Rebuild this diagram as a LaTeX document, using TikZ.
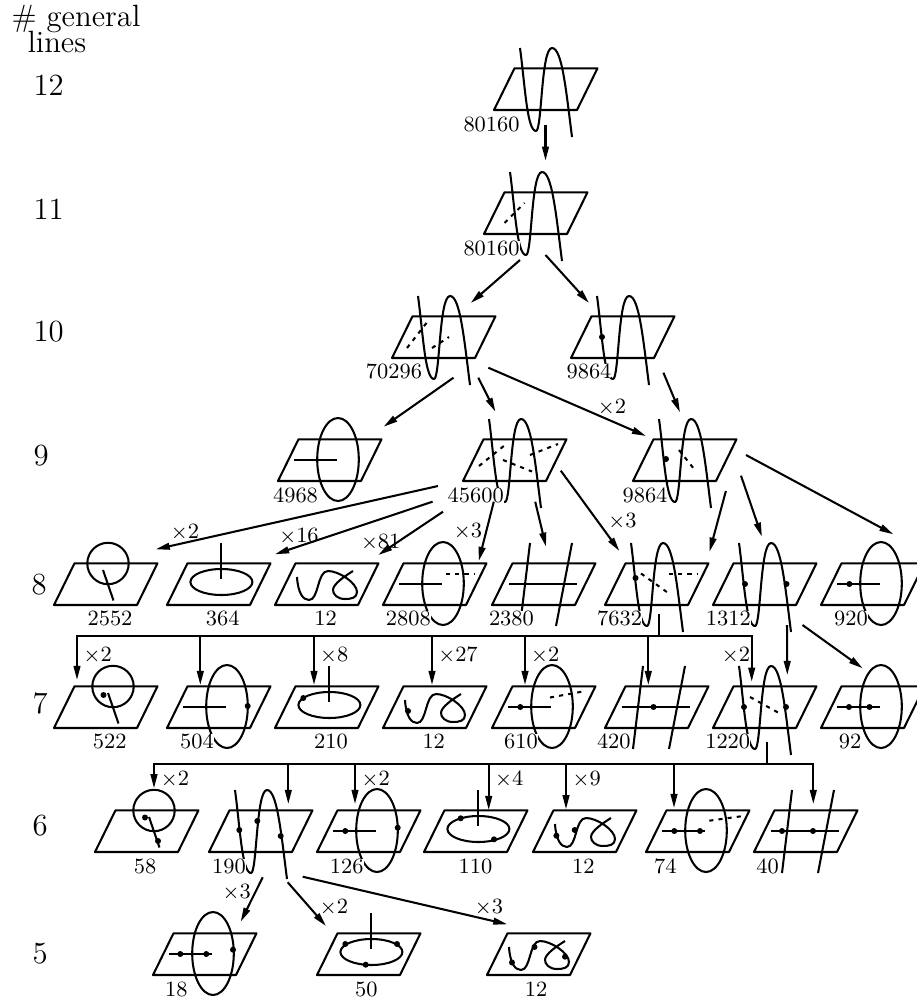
\documentclass[tikz,border=0pt]{standalone}
\usetikzlibrary{arrows.meta}

\tikzset{
	figline/.style={line width=0.8pt, line join=round},
	dashline/.style={line width=0.8pt, dash pattern=on 1.6pt off 2pt},
	arrowline/.style={line width=0.8pt, -{Stealth[length=5.5pt,width=2.6pt,inset=0pt]}},
	busline/.style={line width=0.8pt, line cap=rect},
	level/.style={anchor=west, inner sep=0pt, font=\fontsize{12}{14}\selectfont},
	head/.style={anchor=base west, inner sep=0pt, font=\fontsize{12}{14}\selectfont},
	count/.style={fill=white, inner sep=0pt, text height=5.5pt, text depth=0pt, font=\fontsize{8.5}{10}\selectfont},
	mult/.style={inner sep=0pt, font=\fontsize{8.5}{10}\selectfont}
}

% the sheet, named by its lower left corner
\newcommand{\sheet}[3]{
	\coordinate (#1) at (#2,#3);
	\draw[figline] (#1) -- ++(83,0) -- ++(20.5,-41.7) -- ++(-83,0) -- cycle;
}
\newcommand{\sextic}[1]{
	\begin{scope}[shift={(#1)}]
		\draw[figline] (26,-62) .. controls (31,-25) and (33,21) .. (42,21)
			.. controls (48,21) and (47,-62) .. (58,-62)
			.. controls (68,-62) and (72,-20) .. (78,27);
	\end{scope}
}
\newcommand{\quartic}[1]{
	\begin{scope}[shift={(#1)}]
		\draw[figline] (22,-28) .. controls (23,-12) and (28,-5) .. (34,-5)
			.. controls (44,-5) and (42,-34) .. (53,-34)
			.. controls (64,-34) and (82,-22) .. (82,-13)
			.. controls (82,-7) and (76,-6) .. (70,-6)
			.. controls (62,-6) and (58,-11) .. (58,-15)
			.. controls (58,-21) and (70,-29) .. (78,-34);
	\end{scope}
}
\newcommand{\tallring}[1]{
	\begin{scope}[shift={(#1)}]
		\draw[figline] (60,-21.5) ellipse [x radius=20.8, y radius=41.5];
		\draw[figline] (16,-21) -- (59,-21);
	\end{scope}
}
\newcommand{\flatring}[1]{
	\begin{scope}[shift={(#1)}]
		\draw[figline] (54.4,-23) ellipse [x radius=31, y radius=13];
		\draw[figline] (54.4,-62) -- (54.4,-26);
	\end{scope}
}
% #2 is the sideways shift of circle and stick
\newcommand{\roundring}[2]{
	\begin{scope}[shift={(#1)}, xshift=#2*0.39pt]
		\draw[figline] (54,-41.5) circle (20.7);
		\draw[figline] (49,-35) -- (59.5,-4.5);
	\end{scope}
}
\newcommand{\twolines}[1]{
	\begin{scope}[shift={(#1)}]
		\draw[figline] (38,-62) -- (28,21);
		\draw[figline] (80,-62) -- (64,21);
		\draw[figline] (17,-21) -- (85,-21);
	\end{scope}
}
\newcommand{\spot}[3]{\fill ([shift={(#2,#3)}]#1) circle (3);}
\newcommand{\dashes}[5]{\draw[dashline] ([shift={(#2,#3)}]#1) -- ([shift={(#4,#5)}]#1);}
\newcommand{\link}[6]{\draw[arrowline] ([shift={(#2,#3)}]#1) -- ([shift={(#5,#6)}]#4);}
\newcommand{\drop}[4]{
	\coordinate (tip) at ([shift={(#3,#4)}]#2);
	\draw[arrowline] (#1 -| tip) -- (tip);
}

\begin{document}
\begin{tikzpicture}[x=0.39pt, y=-0.39pt]

	\clip (0,0) rectangle (917,1001);

	\node[head] (head1) at (11,27) {\# general};
	\node[head] (head2) at (27,53) {lines};
	\node[level] (lev12) at (33,85) {12};
	\node[level] (lev11) at (33,209) {11};
	\node[level] (lev10) at (33,332) {10};
	\node[level] (lev9) at (33,456) {9};
	\node[level] (lev8) at (31,585) {8};
	\node[level] (lev7) at (32,703) {7};
	\node[level] (lev6) at (32,826) {6};
	\node[level] (lev5) at (32,954) {5};

	\sheet{r12a}{494}{110}
	\sextic{r12a}

	\sheet{r11a}{484}{234}
	\sextic{r11a}
	\dashes{r11a}{20.5}{-11}{40.5}{-31}

	\sheet{r10a}{392}{358}
	\sextic{r10a}
	\dashes{r10a}{15}{-10}{36}{-37}
	\dashes{r10a}{40}{-10}{57}{-21}
	\sheet{r10b}{571}{358}
	\sextic{r10b}
	\spot{r10b}{31}{-21}

	\sheet{r9a}{278}{481}
	\tallring{r9a}
	\sheet{r9b}{463}{481}
	\sextic{r9b}
	\dashes{r9b}{16}{-15}{42}{-36}
	\dashes{r9b}{40}{-21}{69}{-9.5}
	\dashes{r9b}{67}{-26}{95}{-37}
	\sheet{r9c}{633}{481}
	\sextic{r9c}
	\spot{r9c}{33}{-22}
	\dashes{r9c}{46}{-31}{63}{-9.5}

	\sheet{r8a}{54}{605}
	\roundring{r8a}{0}
	\sheet{r8b}{167}{605}
	\flatring{r8b}
	\sheet{r8c}{275}{605}
	\quartic{r8c}
	\sheet{r8d}{383}{605}
	\tallring{r8d}
	\dashes{r8d}{63}{-31}{92}{-31}
	\sheet{r8e}{492}{605}
	\twolines{r8e}
	\sheet{r8f}{605}{605}
	\sextic{r8f}
	\spot{r8f}{30.5}{-27}
	\dashes{r8f}{36}{-31.5}{66}{-10}
	\dashes{r8f}{64}{-31}{92}{-31}
	\sheet{r8g}{713}{605}
	\sextic{r8g}
	\spot{r8g}{32}{-21}
	\spot{r8g}{73.5}{-21}
	\sheet{r8h}{821}{605}
	\tallring{r8h}
	\spot{r8h}{28.4}{-21}

	\sheet{r7a}{54}{728}
	\roundring{r7a}{5}
	\spot{r7a}{49.5}{-33}
	\sheet{r7b}{167}{728}
	\tallring{r7b}
	\spot{r7b}{80.7}{-22}
	\sheet{r7c}{275}{728}
	\flatring{r7c}
	\spot{r7c}{28.3}{-30}
	\sheet{r7d}{383}{728}
	\quartic{r7d}
	\spot{r7d}{25}{-17}
	\sheet{r7e}{492}{728}
	\tallring{r7e}
	\spot{r7e}{28.3}{-21}
	\dashes{r7e}{58}{-30.5}{91}{-36.5}
	\sheet{r7f}{605}{728}
	\twolines{r7f}
	\spot{r7f}{48.5}{-21}
	\sheet{r7g}{713}{728}
	\sextic{r7g}
	\spot{r7g}{31}{-21}
	\spot{r7g}{73}{-21}
	\dashes{r7g}{37}{-31}{65}{-15.5}
	\sheet{r7h}{821}{728}
	\tallring{r7h}
	\spot{r7h}{28}{-21}
	\spot{r7h}{48.5}{-21}

	\sheet{r6a}{95}{852}
	\roundring{r6a}{5}
	\spot{r6a}{50}{-34.5}
	\spot{r6a}{63}{-11}
	\sheet{r6b}{209}{852}
	\sextic{r6b}
	\spot{r6b}{30.3}{-22}
	\spot{r6b}{48.3}{-31}
	\spot{r6b}{71.7}{-16}
	\sheet{r6c}{317}{852}
	\tallring{r6c}
	\spot{r6c}{28.3}{-21}
	\spot{r6c}{80.7}{-24.3}
	\sheet{r6d}{424}{852}
	\flatring{r6d}
	\spot{r6d}{36.7}{-33.7}
	\spot{r6d}{70}{-12.7}
	\sheet{r6e}{533}{852}
	\quartic{r6e}
	\spot{r6e}{23.4}{-16.3}
	\spot{r6e}{41.7}{-22}
	\sheet{r6f}{646}{852}
	\tallring{r6f}
	\spot{r6f}{28.3}{-21}
	\spot{r6f}{54}{-21}
	\dashes{r6f}{63.3}{-31.3}{97.3}{-36}
	\sheet{r6g}{754}{852}
	\twolines{r6g}
	\spot{r6g}{28}{-21}
	\spot{r6g}{59}{-21}

	\sheet{r5a}{153}{975}
	\tallring{r5a}
	\spot{r5a}{27.3}{-21}
	\spot{r5a}{53.3}{-21}
	\spot{r5a}{80}{-25.3}
	\sheet{r5b}{317}{975}
	\flatring{r5b}
	\spot{r5b}{28.3}{-31}
	\spot{r5b}{80}{-31}
	\spot{r5b}{48.7}{-10.3}
	\sheet{r5c}{487}{975}
	\quartic{r5c}
	\spot{r5c}{25}{-12.5}
	\spot{r5c}{47.5}{-28}
	\spot{r5c}{78}{-18.3}

	% counts on top, they cut what runs under them
	\node[count] (c12a) at (491.5,124) {80160};
	\node[count] (c11a) at (491.5,248) {80160};
	\node[count] (c10a) at (394,371) {70296};
	\node[count] (c10b) at (589,371) {9864};
	\node[count] (c9a) at (295.5,495.5) {4968};
	\node[count] (c9b) at (475.7,495.5) {45600};
	\node[count] (c9c) at (645,495.5) {9864};
	\node[count] (c8a) at (110,618.5) {2552};
	\node[count] (c8b) at (222.8,618.5) {364};
	\node[count] (c8c) at (325.5,618.5) {12};
	\node[count] (c8d) at (408.3,618.5) {2808};
	\node[count] (c8e) at (511.4,618.5) {2380};
	\node[count] (c8f) at (619.6,618.5) {7632};
	\node[count] (c8g) at (728.3,618.5) {1312};
	\node[count] (c8h) at (851,618.5) {920};
	\node[count] (c7a) at (109.8,741.5) {522};
	\node[count] (c7b) at (197,741.5) {504};
	\node[count] (c7c) at (331,741.5) {210};
	\node[count] (c7d) at (433.7,741.5) {12};
	\node[count] (c7e) at (521,741.5) {610};
	\node[count] (c7f) at (613.8,741.5) {420};
	\node[count] (c7g) at (727.7,741.5) {1220};
	\node[count] (c7h) at (850,741.5) {92};
	\node[count] (c6a) at (145,866) {58};
	\node[count] (c6b) at (229,866) {190};
	\node[count] (c6c) at (346.7,866) {126};
	\node[count] (c6d) at (475.5,866) {110};
	\node[count] (c6e) at (583.3,866) {12};
	\node[count] (c6f) at (665.3,866) {74};
	\node[count] (c6g) at (767.5,866) {40};
	\node[count] (c5a) at (176.3,989.3) {18};
	\node[count] (c5b) at (366.3,989.3) {50};
	\node[count] (c5c) at (536,989.3) {12};

	\link{r12a}{51.5}{15}{r11a}{61.5}{-73.3}
	\link{r11a}{36}{26}{r10a}{78.7}{-55}
	\link{r11a}{61.5}{21}{r10b}{18}{-55}
	\link{r10a}{61.5}{19.7}{r9a}{105.6}{-54.3}
	\link{r10a}{86.3}{19.7}{r9b}{32.4}{-69.3}
	\link{r10a}{96.3}{9.7}{r9c}{13}{-45}
	\link{r10b}{92.4}{14.7}{r9c}{47}{-68.7}
	\link{r9b}{-25}{5}{r8a}{101.7}{-55.7}
	\link{r9b}{-30.4}{20.7}{r8b}{108}{-50.7}
	\link{r9b}{-20}{30.7}{r8c}{103.3}{-50}
	\link{r9b}{30.8}{20.7}{r8d}{95.7}{-44}
	\link{r9b}{72.2}{20.7}{r8e}{54}{-58.3}
	\link{r9b}{97.8}{-10.3}{r8f}{14.4}{-54}
	\link{r9c}{92.9}{10}{r8f}{104.5}{-53.3}
	\link{r9c}{108}{-5.3}{r8g}{48.9}{-68.3}
	\link{r9c}{113}{-26}{r8h}{72.4}{-70.7}

	% first bus
	\coordinate (bus7) at (658.8,635.7);
	\coordinate (bus7l) at (77,635.7);
	\coordinate (bus7r) at (751.7,635.7);
	\draw[busline] ([shift={(53.8,10)}]r8f) -- (bus7);
	\draw[busline] (bus7l) -- (bus7r);
	\drop{bus7}{r7a}{23}{-48}
	\drop{bus7}{r7b}{33.3}{-43}
	\drop{bus7}{r7c}{39}{-43}
	\drop{bus7}{r7d}{49}{-43}
	\drop{bus7}{r7e}{33}{-43}
	\drop{bus7}{r7f}{43.3}{-43}
	\drop{bus7}{r7g}{38.7}{-46.3}
	\link{r8g}{74}{20}{r7g}{74.3}{-53}
	\link{r8g}{89.5}{20}{r7h}{41.7}{-59.7}

	% second bus
	\coordinate (bus6) at (766.7,764.3);
	\coordinate (bus6l) at (154,764.3);
	\coordinate (bus6r) at (813.3,764.3);
	\draw[busline] ([shift={(53.7,15.3)}]r7g) -- (bus6);
	\draw[busline] (bus6l) -- (bus6r);
	\drop{bus6}{r6a}{59}{-63.7}
	\drop{bus6}{r6b}{79.3}{-48}
	\drop{bus6}{r6c}{38}{-48}
	\drop{bus6}{r6d}{64.7}{-42}
	\drop{bus6}{r6e}{33}{-42.7}
	\drop{bus6}{r6f}{28}{-44}
	\drop{bus6}{r6g}{59.3}{-48}
	\link{r6b}{53.7}{25.3}{r5a}{87.7}{-53.3}
	\link{r6b}{78.7}{30.3}{r5b}{9}{-49}
	\link{r6b}{93.7}{24.7}{r5c}{20.3}{-50.7}

	\node[mult] (m1) at (612,407.3) {$\times$2};
	\node[mult] (m2) at (185,532.3) {$\times$2};
	\node[mult] (m3) at (299,536.7) {$\times$16};
	\node[mult] (m4) at (380.7,542.7) {$\times$81};
	\node[mult] (m5) at (468,531.7) {$\times$3};
	\node[mult] (m6) at (622.4,521.7) {$\times$3};
	\node[mult] (m7) at (97.7,655) {$\times$2};
	\node[mult] (m8) at (334.3,655) {$\times$8};
	\node[mult] (m9) at (458,655) {$\times$27};
	\node[mult] (m10) at (545.3,655) {$\times$2};
	\node[mult] (m11) at (736,655) {$\times$2};
	\node[mult] (m12) at (175,779) {$\times$2};
	\node[mult] (m13) at (375.7,779) {$\times$2};
	\node[mult] (m14) at (509.3,779) {$\times$4};
	\node[mult] (m15) at (586.7,779) {$\times$9};
	\node[mult] (m16) at (236.7,892.3) {$\times$3};
	\node[mult] (m17) at (334,907.7) {$\times$2};
	\node[mult] (m18) at (489,907.7) {$\times$3};

\end{tikzpicture}
\end{document}
